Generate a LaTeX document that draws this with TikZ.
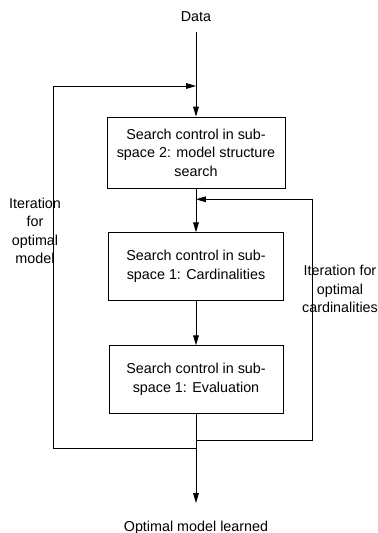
\documentclass[tikz,border=0pt]{standalone}
\usepackage{fontspec}
\setmainfont{Liberation Sans}
\usetikzlibrary{arrows.meta}
\begin{document}
\begin{tikzpicture}[
  line width=0.6pt,
  font=\fontsize{10.2}{13.1}\selectfont,
  flow/.style={-{Triangle[length=7pt,width=4pt]}},
  searchbox/.style={draw,align=center,inner sep=0pt}]
\useasboundingbox (0,0) rectangle (9.45,13.325);
%\draw[step=0.5cm,gray,very thin] (0,0) grid (9.45,13.325); %background grid
\node[anchor=base,inner sep=7pt] (data) at (4.9,12.775) {Data};
\node[searchbox,minimum width=4.45cm,minimum height=1.775cm] (box1) at (4.9,9.5125)
  {Search control in sub-\\space 2: model structure\\search};
\node[searchbox,minimum width=4.375cm,minimum height=1.68cm] (box2) at (4.9,6.666)
  {Search control in sub-\\space 1: Cardinalities};
\node[searchbox,minimum width=4.35cm,minimum height=1.69cm] (box3) at (4.9,3.8375)
  {Search control in sub-\\space 1: Evaluation};
\node[anchor=base] (result) at (4.9,0.05) {Optimal model learned};
\node[align=center] (itermodel) at (0.875,7.55) {Iteration\\for\\optimal\\model};
\node[align=center] (itercard) at (8.5,6.1) {Iteration for\\optimal\\cardinalities};
% joints on the main line
\coordinate (upL)  at (4.9,11.175);
\coordinate (upR)  at (4.9,8.3425);
\coordinate (lowR) at (4.9,2.325);
\coordinate (lowL) at (4.9,2.125);
\coordinate (done) at (4.9,0.75);
\draw[flow] (data.south) -- (box1.north);
\draw[flow] (box1.south) -- (box2.north);
\draw[flow] (box2.south) -- (box3.north);
\draw[flow] (box3.south) -- (done);
% feedback loops
\draw[flow] (lowL) -- (1.325,2.125) |- (upL);
\draw[flow] (lowR) -- (7.8,2.325) |- (upR);
\end{tikzpicture}
\end{document}
